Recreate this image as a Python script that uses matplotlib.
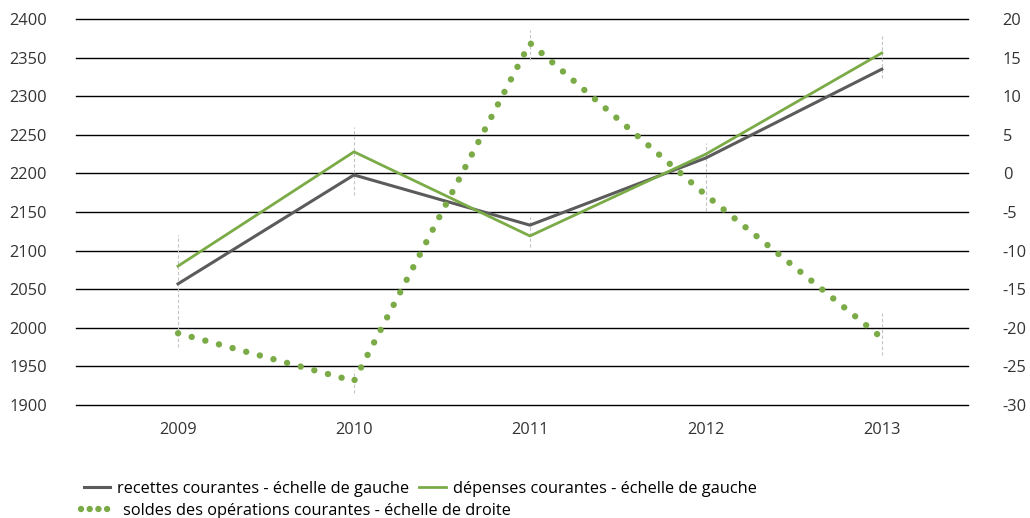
import matplotlib.pyplot as plt
from matplotlib.lines import Line2D

plt.rcParams['font.family'] = ['Open Sans', 'DejaVu Sans']
plt.rcParams['axes.unicode_minus'] = False

# données
annees = ['2009', '2010', '2011', '2012', '2013']
recettes = [2057, 2198, 2133, 2220, 2335]
depenses = [2080, 2228, 2119, 2225, 2356]
soldes = [-20.7, -26.9, 16.9, -2.8, -21.3]

# segments verticaux pointillés (échelle de gauche) : (bas, haut)
hautbas = [
    [(1975, 2120)],
    [(2172, 2260), (1915, 1945)],
    [(2347, 2386), (2105, 2144)],
    [(2151, 2239)],
    [(2324, 2378), (1965, 2019)],
]

gris = '#5b5b5b'
vert = '#7bab47'
fs = 11.8
x = list(range(len(annees)))

fig = plt.figure(figsize=(10.3, 5.18), dpi=100)
ax = fig.add_axes([0.0738, 0.2181, 0.8660, 0.7452])
ax2 = ax.twinx()

for i, segs in enumerate(hautbas):
    for lo, hi in segs:
        ax.vlines(i, lo, hi, colors='#c4c4c4', linewidth=0.8,
                  linestyles=(0, (3, 2)), zorder=1)

ax.plot(x, recettes, color=gris, linewidth=2.2, zorder=3)
ax.plot(x, depenses, color=vert, linewidth=2.0, zorder=3)
ax2.plot(x, soldes, color=vert, linewidth=4.6, linestyle=(0, (0.01, 2.2)),
         dash_capstyle='round', zorder=3)

ax.set_ylim(1900, 2400)
ax.set_yticks(range(1900, 2401, 50))
ax2.set_ylim(-30, 20)
ax2.set_yticks(range(-30, 21, 5))
ax.set_xlim(-0.58, 4.49)
ax.set_xticks(x)
ax.set_xticklabels(annees)
ax.yaxis.grid(True, color='black', linewidth=1.0)
for gl in ax.get_ygridlines():
    gl.set_clip_on(False)
ax.set_axisbelow(True)

for a in (ax, ax2):
    for s in a.spines.values():
        s.set_visible(False)
    a.tick_params(length=0, labelsize=fs, colors='#333333')
ax.tick_params(axis='y', pad=21)
ax2.tick_params(axis='y', pad=25)
ax.tick_params(axis='x', pad=12)

h1 = Line2D([], [], color=gris, linewidth=2.2)
h2 = Line2D([], [], color=vert, linewidth=2.0)
h3 = Line2D([], [], color=vert, linewidth=4.6, linestyle=(0, (0.01, 1.35)),
            dash_capstyle='round')
fig.legend([h1, h2], ['recettes courantes - échelle de gauche',
                      'dépenses courantes - échelle de gauche'],
           loc='lower left', bbox_to_anchor=(0.0735, 0.025), ncol=2,
           frameon=False, fontsize=fs, handlelength=1.6,
           handletextpad=0.45, columnspacing=0.6, borderpad=0)
fig.legend([h3], ['soldes des opérations courantes - échelle de droite'],
           loc='lower left', bbox_to_anchor=(0.071, -0.018), frameon=False,
           fontsize=fs, handlelength=1.75, handletextpad=0.8, borderpad=0)

fig.savefig('out.png', dpi=100)
